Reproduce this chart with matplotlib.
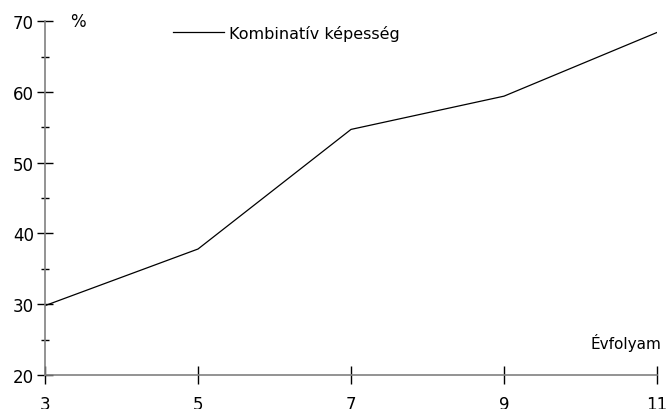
import matplotlib
matplotlib.use('Agg')
import matplotlib.pyplot as plt
from matplotlib.ticker import MultipleLocator

# Data
GRADES = [3, 5, 7, 9, 11]
ABILITY = [29.8, 37.8, 54.7, 59.4, 68.4]
SERIES_LABEL = 'Kombinatív képesség'

plt.rcParams['font.family'] = ['DejaVu Sans']

fig = plt.figure(figsize=(6.67, 4.10), dpi=100)
ax = fig.add_axes([0.0675, 0.083, 0.9175, 0.863])

ax.plot(GRADES, ABILITY, color='black', linewidth=0.9, label=SERIES_LABEL)

ax.set_xlim(3, 11)
ax.set_ylim(20, 70)
ax.set_xticks(GRADES)
ax.set_yticks([20, 30, 40, 50, 60, 70])
ax.yaxis.set_minor_locator(MultipleLocator(5))

for side in ['top', 'right']:
    ax.spines[side].set_visible(False)
for side in ['left', 'bottom']:
    ax.spines[side].set_color('#808080')
    ax.spines[side].set_linewidth(1.2)

ax.tick_params(axis='y', which='major', direction='inout', length=12, width=1,
               labelsize=12, pad=2)
ax.tick_params(axis='y', which='minor', direction='inout', length=6, width=1)
ax.tick_params(axis='x', which='major', direction='inout', length=13, width=1,
               labelsize=12, pad=8)

ax.text(3.43, 70, '%', ha='center', va='center', fontsize=12)
ax.text(11.06, 24.7, 'Évfolyam', ha='right', va='center', fontsize=11)

ax.legend(loc='upper left', bbox_to_anchor=(0.185, 1.03), frameon=False,
          fontsize=11.5, handlelength=3.2, handletextpad=0.3)

fig.savefig('out.png', dpi=100)
